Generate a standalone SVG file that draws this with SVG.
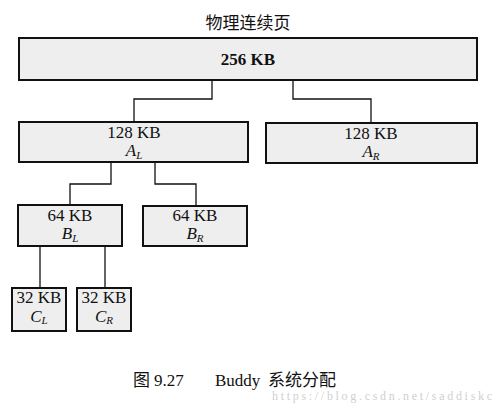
<svg xmlns="http://www.w3.org/2000/svg" width="499" height="409" viewBox="0 0 499 409">
<style>
.box{fill:#eeeeee;stroke:#111;stroke-width:2}
.t{font-family:"Liberation Serif","Times New Roman",serif;font-size:17px;fill:#111;text-anchor:middle}
.i{font-style:italic}
.sub{font-size:11px;font-style:italic}
.cjk{font-family:"Liberation Serif","Noto Sans CJK SC",serif;font-size:17px;fill:#111}
.wm{font-family:"Liberation Serif",serif;font-size:12px;fill:#d0d0d0}
.c{fill:none;stroke:#111;stroke-width:1.3}
</style>
<rect width="499" height="409" fill="#fff"/>
<text class="cjk" x="248" y="29" text-anchor="middle">物理连续页</text>
<g id="connectors">
<path class="c" d="M212 80V99H134V121"/>
<path class="c" d="M293 80V99H371V122"/>
<path class="c" d="M111 162V184H70V205"/>
<path class="c" d="M155 162V184H196V206"/>
<path class="c" d="M40 246V288"/>
<path class="c" d="M105 246V288"/>
</g>
<g id="n256">
<rect class="box" x="19" y="38" width="458" height="42"/>
<text class="t" x="248" y="65" font-weight="bold">256 KB</text>
</g>
<g id="nAL">
<rect class="box" x="19" y="122" width="229" height="40"/>
<text class="t" x="134" y="138">128 KB</text>
<text class="t" x="134" y="156"><tspan class="i">A</tspan><tspan class="sub" dy="3">L</tspan></text>
</g>
<g id="nAR">
<rect class="box" x="266" y="123" width="211" height="40"/>
<text class="t" x="371" y="139">128 KB</text>
<text class="t" x="371" y="157"><tspan class="i">A</tspan><tspan class="sub" dy="3">R</tspan></text>
</g>
<g id="nBL">
<rect class="box" x="18" y="205" width="104" height="41"/>
<text class="t" x="70" y="221">64 KB</text>
<text class="t" x="70" y="239"><tspan class="i">B</tspan><tspan class="sub" dy="3">L</tspan></text>
</g>
<g id="nBR">
<rect class="box" x="143" y="206" width="104" height="40"/>
<text class="t" x="195" y="221">64 KB</text>
<text class="t" x="195" y="239"><tspan class="i">B</tspan><tspan class="sub" dy="3">R</tspan></text>
</g>
<g id="nCL">
<rect class="box" x="12" y="288" width="54" height="43"/>
<text class="t" x="39" y="303">32 KB</text>
<text class="t" x="39" y="322"><tspan class="i">C</tspan><tspan class="sub" dy="2">L</tspan></text>
</g>
<g id="nCR">
<rect class="box" x="77" y="288" width="54" height="43"/>
<text class="t" x="104" y="303">32 KB</text>
<text class="t" x="104" y="322"><tspan class="i">C</tspan><tspan class="sub" dy="2">R</tspan></text>
</g>
<text class="cjk" x="133" y="386">图<tspan x="154">9.27</tspan><tspan x="215">Buddy</tspan><tspan x="268">系统分配</tspan></text>
<text class="wm" x="272" y="400" textLength="220">https://blog.csdn.net/saddiskc</text>
</svg>
